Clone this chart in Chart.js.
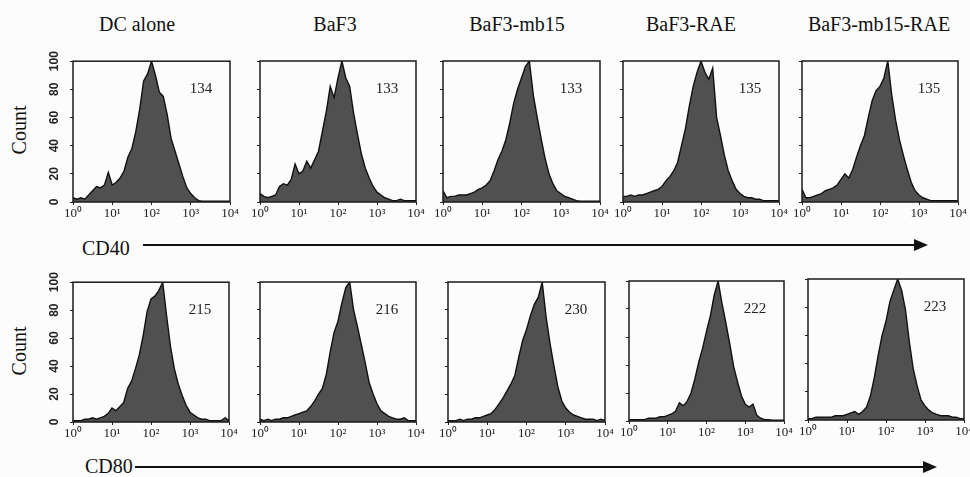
<!DOCTYPE html>
<html>
<head>
<meta charset="utf-8">
<script src="https://cdn.jsdelivr.net/npm/chart.js@4.4.0/dist/chart.umd.min.js"></script>
<style>
  body { margin: 0; background: #fcfcfc; }
  #wrap { position: relative; width: 970px; height: 477px; overflow: hidden; font-family: "Liberation Serif", serif; color: #111; }
  canvas { position: absolute; }
  .title { position: absolute; font-size: 20px; line-height: 20px; transform: translateX(-50%); white-space: nowrap; }
  .count { position: absolute; font-size: 20px; line-height: 20px; transform: translate(-50%, -50%) rotate(-90deg); white-space: nowrap; }
  .marker { position: absolute; font-size: 20px; line-height: 20px; }
  .arrow { position: absolute; height: 2px; background: #111; }
  .arrow:after { content: ""; position: absolute; right: -14px; top: -5px; border-left: 14px solid #111; border-top: 6px solid transparent; border-bottom: 6px solid transparent; }
</style>
</head>
<body>
<div id="wrap"></div>
<script>
// fluorescence channel, in decades (10^0 .. 10^4)
const binsLog = [0, 0.1, 0.2, 0.3, 0.4, 0.5, 0.6, 0.7, 0.8, 0.9, 1, 1.1, 1.2, 1.3, 1.4, 1.5, 1.6, 1.7, 1.8, 1.9,
                 2, 2.1, 2.2, 2.3, 2.4, 2.5, 2.6, 2.7, 2.8, 2.9, 3, 3.1, 3.2, 3.3, 3.4, 3.5, 3.6, 3.7, 3.8, 3.9, 4];

const columnTitles = ["DC alone", "BaF3", "BaF3-mb15", "BaF3-RAE", "BaF3-mb15-RAE"];
const markers = ["CD40", "CD80"];
const meanValues = [[134, 133, 133, 135, 135], [215, 216, 230, 222, 223]];
const xTickLabels = ["10\u2070", "10\u00b9", "10\u00b2", "10\u00b3", "10\u2074"];

// CD40 histograms (% of max count)
const cd40DcAlone  = [3, 2, 3, 2, 5, 8, 11, 10, 12, 21, 12, 14, 17, 22, 32, 38, 50, 66, 86, 91, 100, 90, 78, 75, 62, 45, 36, 27, 18, 10, 6, 3, 1, 0.5, 0.5, 0.5, 0.5, 0.5, 0.5, 0.5, 0.5];
const cd40BaF3     = [6, 4, 3, 4, 5, 11, 13, 12, 16, 27, 20, 22, 29, 24, 30, 36, 50, 64, 82, 74, 88, 100, 88, 82, 63, 48, 34, 24, 17, 11, 7, 5, 3, 2, 1, 1, 2, 1, 1, 1, 1];
const cd40Mb15     = [8, 3, 4, 4, 5, 5, 5, 6, 7, 9, 10, 12, 15, 22, 30, 36, 44, 56, 70, 80, 88, 96, 100, 76, 60, 45, 31, 20, 13, 8, 6, 4, 3, 2, 1, 0.5, 0.5, 0.5, 0.5, 0.5, 0.5];
const cd40Rae      = [4, 4, 5, 4, 5, 5, 6, 7, 8, 9, 11, 15, 18, 22, 28, 40, 52, 68, 82, 92, 100, 92, 87, 95, 60, 47, 33, 22, 15, 9, 6, 4, 3, 3, 2, 2, 1, 1, 1, 1, 1];
const cd40Mb15Rae  = [9, 3, 3, 4, 5, 6, 8, 9, 10, 12, 16, 20, 17, 23, 32, 40, 47, 60, 72, 79, 82, 88, 100, 76, 58, 44, 33, 23, 14, 8, 5, 3, 2, 1, 1, 1, 1, 1, 1, 1, 1];

// CD80 histograms
const cd80DcAlone  = [1, 1, 1, 2, 2, 3, 2, 3, 4, 6, 10, 8, 11, 14, 24, 29, 38, 48, 62, 79, 88, 90, 94, 100, 76, 54, 38, 27, 19, 12, 7, 5, 3, 2, 2, 1, 1, 1, 1, 3, 1];
const cd80BaF3     = [2, 1, 2, 1, 2, 2, 3, 3, 4, 5, 6, 7, 8, 11, 15, 20, 24, 34, 50, 64, 72, 85, 96, 100, 80, 68, 55, 42, 28, 20, 13, 8, 6, 4, 3, 2, 2, 3, 1, 1, 1];
const cd80Mb15     = [1, 1, 1, 2, 1, 2, 2, 3, 3, 4, 5, 6, 9, 13, 17, 22, 27, 33, 46, 58, 66, 76, 84, 89, 100, 75, 56, 40, 25, 15, 10, 7, 5, 4, 3, 2, 2, 2, 1, 2, 1];
const cd80Rae      = [1, 1, 1, 1, 1, 2, 2, 2, 3, 3, 4, 5, 7, 13, 11, 14, 20, 30, 42, 52, 64, 75, 90, 100, 84, 70, 55, 39, 28, 18, 12, 10, 12, 4, 2, 1, 1, 0.5, 0.5, 0.5, 0.5];
const cd80Mb15Rae  = [1, 1, 2, 2, 2, 2, 2, 3, 3, 3, 4, 5, 6, 4, 6, 9, 17, 30, 46, 60, 70, 84, 92, 100, 92, 78, 55, 36, 24, 14, 10, 7, 5, 4, 3, 3, 3, 2, 2, 1, 1];

const rows = [
    [cd40DcAlone, cd40BaF3, cd40Mb15, cd40Rae, cd40Mb15Rae],
    [cd80DcAlone, cd80BaF3, cd80Mb15, cd80Rae, cd80Mb15Rae]
];

// plot boxes [left, top, right, bottom] in page pixels
const panelBoxes = [
    [[73, 61, 230, 202], [260, 61, 416, 202], [443, 61, 600, 202], [623, 61, 779, 202], [802, 61, 958, 202]],
    [[73, 282, 229, 422], [260, 282, 416, 422], [448, 282, 605, 422], [629, 281, 784, 421], [808, 279, 964, 420]]
];

const wrap = document.getElementById("wrap");

function addDiv(cls, text, css) {
    const d = document.createElement("div");
    d.className = cls;
    d.textContent = text;
    Object.assign(d.style, css);
    wrap.appendChild(d);
    return d;
}

// frame round the plot area + the mean value in the corner
const framePlugin = {
    id: "frame",
    afterDatasetsDraw(chart, args, opts) {
        const ctx = chart.ctx;
        const a = chart.chartArea;
        ctx.save();
        ctx.strokeStyle = "#1a1a1a";
        ctx.lineWidth = 1.5;
        ctx.strokeRect(a.left, a.top, a.right - a.left, a.bottom - a.top);
        ctx.fillStyle = "#222";
        ctx.font = '15px "Liberation Serif"';
        ctx.textAlign = "center";
        ctx.textBaseline = "middle";
        ctx.fillText(String(opts.label), a.right - 29, a.top + 28);
        ctx.restore();
    }
};

function makePanel(row, col) {
    const [l, t, r, b] = panelBoxes[row][col];
    const values = rows[row][col];
    const padL = col === 0 ? 26 : 12;
    const padR = 12, padT = 12, padB = 22;

    const cv = document.createElement("canvas");
    cv.width = r - l + padL + padR;
    cv.height = b - t + padT + padB;
    cv.style.left = (l - padL) + "px";
    cv.style.top = (t - padT) + "px";
    wrap.appendChild(cv);

    new Chart(cv, {
        type: "line",
        data: {
            datasets: [{
                data: binsLog.map((x, i) => ({ x: x, y: values[i] })),
                fill: "origin",
                backgroundColor: "#505050",
                borderColor: "#111",
                borderWidth: 1.4,
                pointRadius: 0,
                tension: 0
            }]
        },
        options: {
            responsive: false,
            animation: false,
            events: [],
            layout: { padding: { left: 0, right: padR, top: padT, bottom: 0 } },
            plugins: {
                legend: { display: false },
                tooltip: { enabled: false },
                frame: { label: meanValues[row][col] }
            },
            scales: {
                x: {
                    type: "linear",
                    min: 0,
                    max: 4,
                    ticks: {
                        stepSize: 1,
                        maxRotation: 0,
                        padding: 1,
                        color: "#222",
                        font: { family: "Liberation Serif", size: 13 },
                        callback: (v) => xTickLabels[v]
                    },
                    grid: { drawOnChartArea: false, tickLength: 3, color: "#222" },
                    border: { display: false },
                    afterFit: (s) => { s.height = padB; }
                },
                y: {
                    min: 0,
                    max: 100,
                    ticks: {
                        display: col === 0,
                        stepSize: 20,
                        minRotation: 90,
                        maxRotation: 90,
                        crossAlign: "center",
                        padding: 5,
                        color: "#222",
                        font: { family: "Liberation Sans", size: 12, weight: "bold" }
                    },
                    grid: { drawOnChartArea: false, tickLength: 3, color: "#222" },
                    border: { display: false },
                    afterFit: (s) => { s.width = padL; }
                }
            }
        },
        plugins: [framePlugin]
    });
}

// column titles
const titleCenters = [137, 335, 517, 691, 879];
columnTitles.forEach((txt, i) => addDiv("title", txt, { left: titleCenters[i] + "px", top: "14px" }));

// y axis titles
addDiv("count", "Count", { left: "19px", top: "130px" });
addDiv("count", "Count", { left: "19px", top: "351px" });

// marker labels with arrows
addDiv("marker", markers[0], { left: "82px", top: "238px" });
addDiv("arrow", "", { left: "143px", top: "244px", width: "771px" });
addDiv("marker", markers[1], { left: "85px", top: "456px" });
addDiv("arrow", "", { left: "135px", top: "466px", width: "788px" });

for (let row = 0; row < 2; row++) {
    for (let col = 0; col < 5; col++) {
        makePanel(row, col);
    }
}
</script>
</body>
</html>
